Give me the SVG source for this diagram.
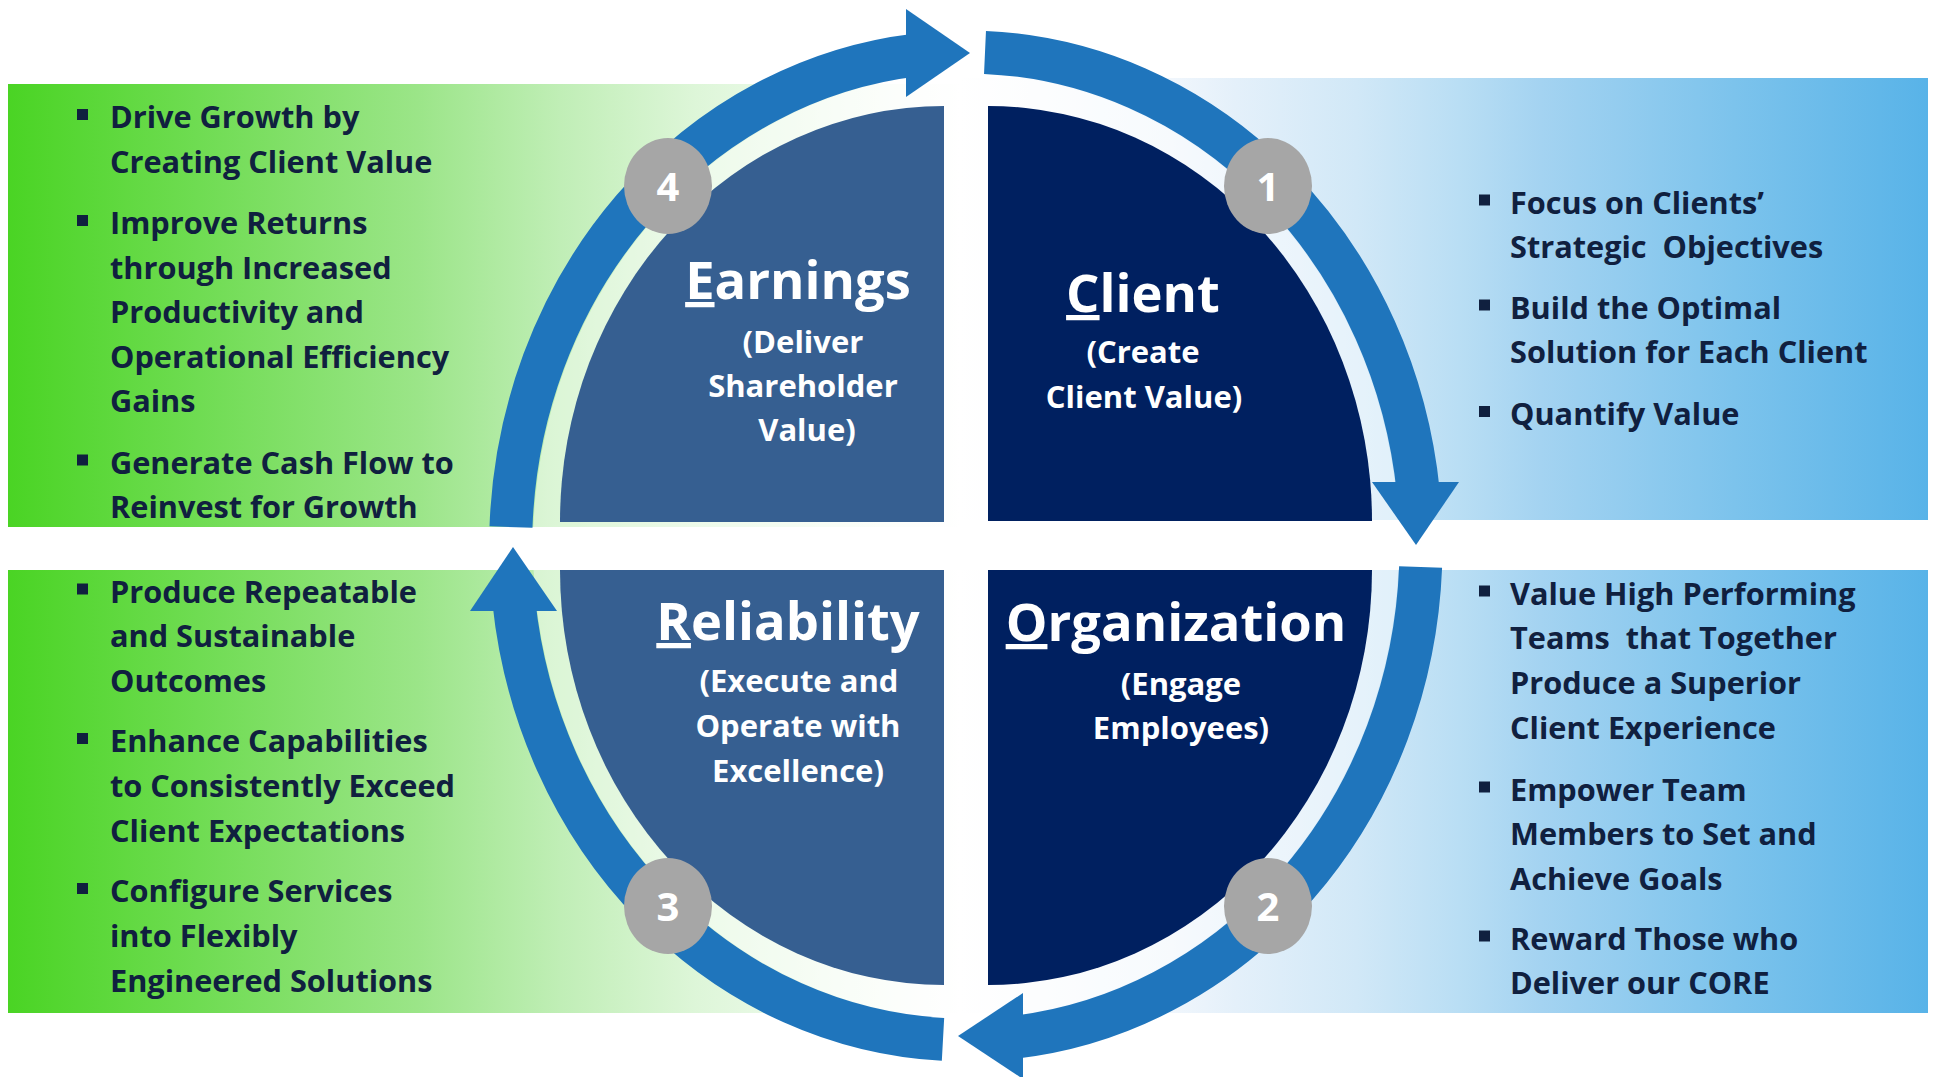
<svg xmlns="http://www.w3.org/2000/svg" width="1937" height="1077" viewBox="0 0 1937 1077">
  <defs>
    <linearGradient id="greenFade" gradientUnits="userSpaceOnUse" x1="8" y1="0" x2="960" y2="0">
      <stop offset="0" stop-color="#4AD424"/>
      <stop offset="0.2" stop-color="#6FDC52"/>
      <stop offset="0.43" stop-color="#9BE588"/>
      <stop offset="0.58" stop-color="#C0EEB6"/>
      <stop offset="0.72" stop-color="#DDF6D8"/>
      <stop offset="0.88" stop-color="#F4FCF2"/>
      <stop offset="1" stop-color="#FFFFFF"/>
    </linearGradient>
    <linearGradient id="blueFade" gradientUnits="userSpaceOnUse" x1="960" y1="0" x2="1928" y2="0">
      <stop offset="0" stop-color="#FFFFFF"/>
      <stop offset="0.22" stop-color="#F0F6FC"/>
      <stop offset="0.285" stop-color="#E4F0FA"/>
      <stop offset="0.41" stop-color="#D1E8F7"/>
      <stop offset="0.516" stop-color="#B9DEF4"/>
      <stop offset="0.6" stop-color="#A4D3F1"/>
      <stop offset="0.8" stop-color="#7CC3EC"/>
      <stop offset="1" stop-color="#58B3E8"/>
    </linearGradient>
    <rect id="bullet" width="11" height="11" fill="#10203F"/>
  </defs>
  <style>
    .item { font-family: "Open Sans", "Liberation Sans", sans-serif; font-weight: 700; font-size: 30.7px; fill: #10203F; }
    .title { font-family: "Open Sans", "Liberation Sans", sans-serif; font-weight: 700; font-size: 52.5px; fill: #FFFFFF; text-anchor: middle; }
    .sub { font-family: "Open Sans", "Liberation Sans", sans-serif; font-weight: 700; font-size: 31px; fill: #FFFFFF; text-anchor: middle; }
    .num { font-family: "Open Sans", "Liberation Sans", sans-serif; font-weight: 700; font-size: 40px; fill: #FFFFFF; text-anchor: middle; }
    .badge { fill: #A6A6A6; }
    .arc { fill: none; stroke: #1F75BC; stroke-width: 43; }
    .head { fill: #1F75BC; }
    .light { fill: #365F91; }
    .dark { fill: #002060; }
  </style>

  <rect width="1937" height="1077" fill="#FFFFFF"/>

  <!-- side panels with bullet lists -->
  <g id="panel-earnings">
    <rect x="8" y="84" width="952" height="443" fill="url(#greenFade)"/>
    <use href="#bullet" x="77" y="109"/>
    <use href="#bullet" x="77" y="215"/>
    <use href="#bullet" x="77" y="454.5"/>
    <text class="item">
      <tspan x="110" y="128">Drive Growth by</tspan>
      <tspan x="110" y="172.5">Creating Client Value</tspan>
      <tspan x="110" y="234">Improve Returns</tspan>
      <tspan x="110" y="278.5">through Increased</tspan>
      <tspan x="110" y="323">Productivity and</tspan>
      <tspan x="110" y="367.5">Operational Efficiency</tspan>
      <tspan x="110" y="412">Gains</tspan>
      <tspan x="110" y="473.5">Generate Cash Flow to</tspan>
      <tspan x="110" y="518">Reinvest for Growth</tspan>
    </text>
  </g>

  <g id="panel-reliability">
    <rect x="8" y="570" width="952" height="443" fill="url(#greenFade)"/>
    <use href="#bullet" x="77" y="583.5"/>
    <use href="#bullet" x="77" y="733"/>
    <use href="#bullet" x="77" y="883"/>
    <text class="item">
      <tspan x="110" y="602.5">Produce Repeatable</tspan>
      <tspan x="110" y="647">and Sustainable</tspan>
      <tspan x="110" y="691.5">Outcomes</tspan>
      <tspan x="110" y="752">Enhance Capabilities</tspan>
      <tspan x="110" y="797">to Consistently Exceed</tspan>
      <tspan x="110" y="842">Client Expectations</tspan>
      <tspan x="110" y="902">Configure Services</tspan>
      <tspan x="110" y="947">into Flexibly</tspan>
      <tspan x="110" y="991.5">Engineered Solutions</tspan>
    </text>
  </g>

  <g id="panel-client">
    <rect x="960" y="78" width="968" height="442" fill="url(#blueFade)"/>
    <use href="#bullet" x="1479" y="194.5"/>
    <use href="#bullet" x="1479" y="299.5"/>
    <use href="#bullet" x="1479" y="406"/>
    <text class="item" xml:space="preserve">
      <tspan x="1510" y="213.5">Focus on Clients’</tspan>
      <tspan x="1510" y="257.5">Strategic  Objectives</tspan>
      <tspan x="1510" y="318.5">Build the Optimal</tspan>
      <tspan x="1510" y="363">Solution for Each Client</tspan>
      <tspan x="1510" y="425">Quantify Value</tspan>
    </text>
  </g>

  <g id="panel-organization">
    <rect x="960" y="570" width="968" height="443" fill="url(#blueFade)"/>
    <use href="#bullet" x="1479" y="585.5"/>
    <use href="#bullet" x="1479" y="781.5"/>
    <use href="#bullet" x="1479" y="930.5"/>
    <text class="item" xml:space="preserve">
      <tspan x="1510" y="604.5">Value High Performing</tspan>
      <tspan x="1510" y="649">Teams  that Together</tspan>
      <tspan x="1510" y="693.5">Produce a Superior</tspan>
      <tspan x="1510" y="738.5">Client Experience</tspan>
      <tspan x="1510" y="800.5">Empower Team</tspan>
      <tspan x="1510" y="845">Members to Set and</tspan>
      <tspan x="1510" y="889.5">Achieve Goals</tspan>
      <tspan x="1510" y="949.5">Reward Those who</tspan>
      <tspan x="1510" y="994">Deliver our CORE</tspan>
    </text>
  </g>

  <!-- pale halo inside the cycle ring -->
  <ellipse cx="966" cy="546" rx="433" ry="472" fill="#FFFFFF" fill-opacity="0.45"/>
  <rect x="0" y="527" width="1937" height="43" fill="#FFFFFF"/>

  <!-- four quadrants -->
  <g id="quadrant-earnings">
    <path class="light" d="M944,522 L944,106 A384,416 0 0 0 560,522 Z"/>
    <text class="title" x="798" y="299"><tspan text-decoration="underline">E</tspan>arnings</text>
    <text class="sub">
      <tspan x="807" y="353">(Deliver</tspan>
      <tspan x="807" y="397">Shareholder</tspan>
      <tspan x="807" y="441">Value)</tspan>
    </text>
  </g>

  <g id="quadrant-client">
    <path class="dark" d="M988,521 L988,106 A384,415 0 0 1 1372,521 Z"/>
    <text class="title" x="1143" y="312"><tspan text-decoration="underline">C</tspan>lient</text>
    <text class="sub">
      <tspan x="1147" y="363">(Create</tspan>
      <tspan x="1144" y="408">Client Value)</tspan>
    </text>
  </g>

  <g id="quadrant-reliability">
    <path class="light" d="M944,570 L944,985 A384,415 0 0 1 560,570 Z"/>
    <text class="title" x="788" y="640"><tspan text-decoration="underline">R</tspan>eliability</text>
    <text class="sub">
      <tspan x="803" y="692">(Execute and</tspan>
      <tspan x="802" y="737">Operate with</tspan>
      <tspan x="798" y="781.5">Excellence)</tspan>
    </text>
  </g>

  <g id="quadrant-organization">
    <path class="dark" d="M988,570 L988,985 A384,415 0 0 0 1372,570 Z"/>
    <text class="title" x="1176" y="641"><tspan text-decoration="underline">O</tspan>rganization</text>
    <text class="sub">
      <tspan x="1185" y="694.5">(Engage</tspan>
      <tspan x="1181" y="738.5">Employees)</tspan>
    </text>
  </g>

  <!-- cycle arrows -->
  <g id="connectors">
    <path class="arc" d="M511,527 A455,494 0 0 1 916,55"/>
    <polygon class="head" points="906,9 970,53 906,97"/>
    <path class="arc" d="M985,52.4 A455,494 0 0 1 1418.3,492"/>
    <polygon class="head" points="1372,482 1459,482 1416,545"/>
    <path class="arc" d="M1420.6,567 A455,494 0 0 1 1013,1037.4"/>
    <polygon class="head" points="1023,993 958,1036 1023,1079"/>
    <path class="arc" d="M943,1039.4 A455,494 0 0 1 513.8,601"/>
    <polygon class="head" points="470,611 557,611 513,547"/>
  </g>

  <!-- step badges -->
  <g id="badge-1">
    <ellipse class="badge" cx="1268" cy="186" rx="44" ry="48"/>
    <text class="num" x="1268" y="201">1</text>
  </g>
  <g id="badge-2">
    <ellipse class="badge" cx="1268" cy="906" rx="44" ry="48"/>
    <text class="num" x="1268" y="921">2</text>
  </g>
  <g id="badge-3">
    <ellipse class="badge" cx="668" cy="906" rx="44" ry="48"/>
    <text class="num" x="668" y="921">3</text>
  </g>
  <g id="badge-4">
    <ellipse class="badge" cx="668" cy="186" rx="44" ry="48"/>
    <text class="num" x="668" y="201">4</text>
  </g>
</svg>
